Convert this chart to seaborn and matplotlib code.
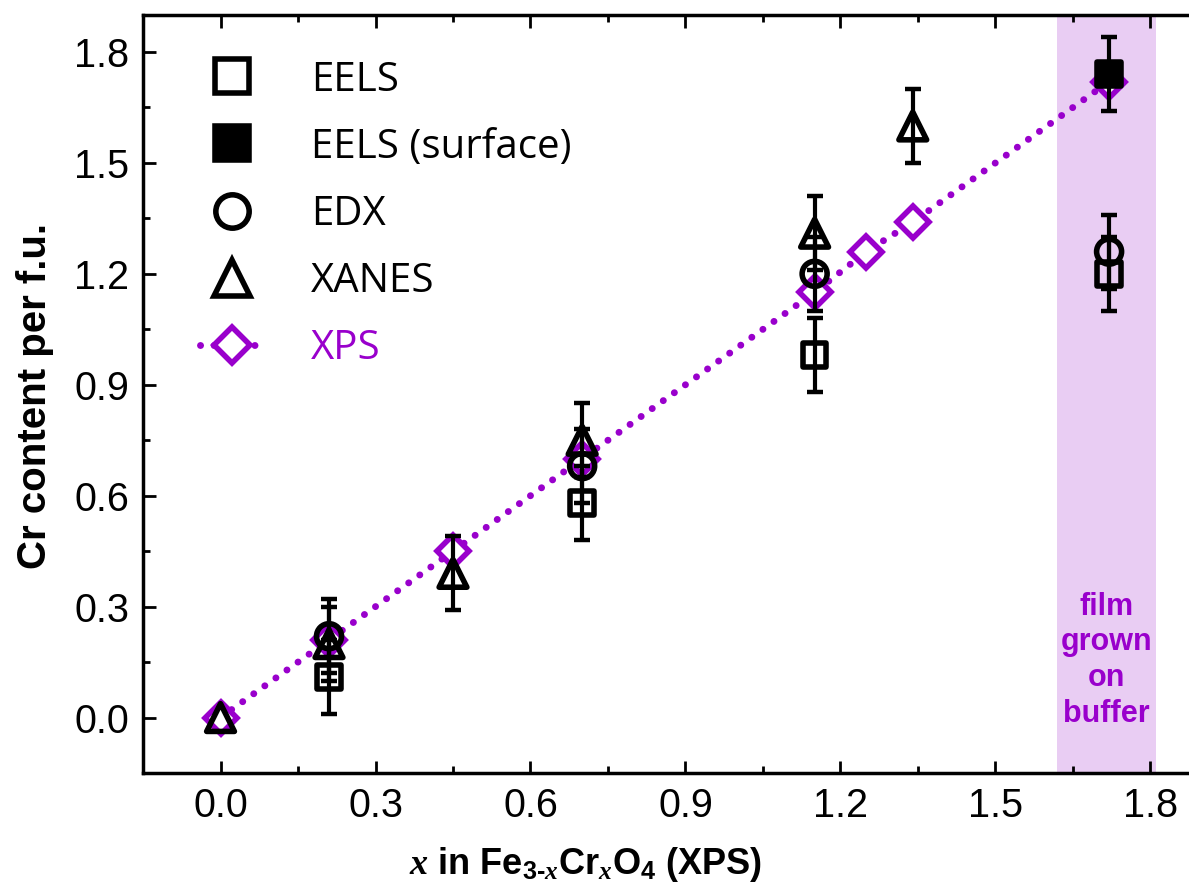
import numpy as np
import pandas as pd
import seaborn as sns
import matplotlib.pyplot as plt
from matplotlib.lines import Line2D

# XPS composition (reference line, y = x)
xps_x = [0.0, 0.21, 0.45, 0.70, 1.15, 1.25, 1.34, 1.72]
xps_y = [0.0, 0.21, 0.45, 0.70, 1.15, 1.26, 1.34, 1.72]

# EELS
eels_x = [0.21, 0.70, 1.15, 1.72]
eels_y = [0.11, 0.58, 0.98, 1.20]
eels_err = [0.1, 0.1, 0.1, 0.1]

# EELS (surface)
surf_x = [1.72]
surf_y = [1.74]
surf_err = [0.1]

# EDX
edx_x = [0.21, 0.70, 1.15, 1.72]
edx_y = [0.22, 0.68, 1.20, 1.26]
edx_err = [0.1, 0.1, 0.1, 0.1]

# XANES
xanes_x = [0.0, 0.21, 0.45, 0.70, 1.15, 1.34]
xanes_y = [0.0, 0.20, 0.39, 0.75, 1.31, 1.60]
xanes_err = [0.0, 0.1, 0.1, 0.1, 0.1, 0.1]

# film grown on buffer
buffer_lo, buffer_hi = 1.62, 1.81
buffer_x, buffer_y = 1.715, 0.155

labels = ['EELS', 'EELS (surface)', 'EDX', 'XANES', 'XPS']

purple = '#9900CC'
shade = '#E9CDF3'
dots = (0, (0.01, 1.95))

sns.set_style('ticks')
plt.rcParams['font.family'] = ['Liberation Sans', 'DejaVu Sans']
plt.rcParams['text.color'] = 'black'
plt.rcParams['axes.labelcolor'] = 'black'
plt.rcParams['mathtext.fontset'] = 'custom'
plt.rcParams['mathtext.rm'] = 'Liberation Sans:weight=bold'
plt.rcParams['mathtext.bf'] = 'Liberation Sans:weight=bold'
plt.rcParams['mathtext.it'] = 'Liberation Serif:style=italic:weight=bold'

fig = plt.figure(figsize=(11.89, 8.88), dpi=100)
ax = fig.add_axes([0.1203, 0.1295, 0.8907, 0.8536])

ax.axvspan(buffer_lo, buffer_hi, color=shade, lw=0, zorder=0)
ax.text(buffer_x, buffer_y, 'film\ngrown\non\nbuffer', ha='center', va='center',
        fontsize=22, fontweight='bold', color=purple, linespacing=1.25, zorder=1)

# XPS line + diamonds
xps = pd.DataFrame({'x': xps_x, 'y': xps_y})
sns.lineplot(data=xps, x='x', y='y', ax=ax, sort=False, color=purple, lw=5,
             linestyle=dots, dash_capstyle='round', marker='D', ms=16,
             mfc='white', mec=purple, mew=4, zorder=2)

# error bars
ebk = dict(fmt='none', ecolor='black', elinewidth=3, capsize=5.8, capthick=3.2, zorder=3)
ax.errorbar(eels_x, eels_y, yerr=eels_err, **ebk)
ax.errorbar(surf_x, surf_y, yerr=surf_err, **ebk)
ax.errorbar(edx_x, edx_y, yerr=edx_err, **ebk)
xe = np.array(xanes_err)
m = xe > 0
ax.errorbar(np.array(xanes_x)[m], np.array(xanes_y)[m], yerr=xe[m], **ebk)

# markers
mk = dict(ax=ax, color='black', edgecolor='black', linewidth=4, zorder=4)
sns.scatterplot(x=eels_x, y=eels_y, marker='s', s=17**2, facecolor='none', **mk)
sns.scatterplot(x=surf_x, y=surf_y, marker='s', s=17**2, facecolor='black', **mk)
sns.scatterplot(x=edx_x, y=edx_y, marker='o', s=18**2, facecolor='none', **mk)
sns.scatterplot(x=xanes_x, y=xanes_y, marker='^', s=20**2, facecolor='none', **mk)

ax.set_xlim(-0.15, 1.9)
ax.set_ylim(-0.15, 1.9)
ax.set_xticks(np.arange(0, 1.81, 0.3))
ax.set_yticks(np.arange(0, 1.81, 0.3))
ax.set_xticks(np.arange(-0.15, 1.9, 0.15), minor=True)
ax.set_yticks(np.arange(-0.15, 1.9, 0.15), minor=True)
ax.xaxis.set_major_formatter(plt.FormatStrFormatter('%.1f'))
ax.yaxis.set_major_formatter(plt.FormatStrFormatter('%.1f'))
ax.tick_params(which='both', direction='in', top=True, right=True, width=2,
               colors='black', labelsize=28.5)
ax.tick_params(which='major', length=9, pad=10)
ax.tick_params(which='minor', length=5)
for sp in ax.spines.values():
    sp.set_linewidth(2.5)
    sp.set_color('black')
    sp.set_visible(True)
ax.grid(False)

ax.set_ylabel('Cr content per f.u.', fontsize=29, fontweight='bold', color='black')
ax.yaxis.set_label_coords(-0.102, 0.497)
ax.yaxis.label.set_va('center')
ax.set_xlabel(r'$\mathit{x}$ in Fe$_{\mathrm{3}\text{-}\mathit{x}}$Cr$_{\mathit{x}}$O$_{\mathrm{4}}$ (XPS)',
              fontsize=26, fontweight='bold', color='black')
ax.xaxis.set_label_coords(0.418, -0.121)
ax.xaxis.label.set_va('center')

handles = [
    Line2D([], [], ls='none', marker='s', ms=24, mfc='none', mec='black', mew=4),
    Line2D([], [], ls='none', marker='s', ms=24, mfc='black', mec='black', mew=4),
    Line2D([], [], ls='none', marker='o', ms=24, mfc='none', mec='black', mew=4),
    Line2D([], [], ls='none', marker='^', ms=26, mfc='none', mec='black', mew=4),
    Line2D([], [], color=purple, lw=5, ls=dots, dash_capstyle='round', marker='D',
           ms=18, mfc='white', mec=purple, mew=4),
]
leg = ax.legend(handles, labels, loc='upper left', bbox_to_anchor=(200 / 1189, 1 - 60 / 888),
                bbox_transform=fig.transFigure, frameon=False, borderpad=0, borderaxespad=0,
                handlelength=1.6, handletextpad=1.15, labelspacing=0.66,
                prop={'family': ['Open Sans', 'DejaVu Sans'], 'size': 29})
for t in leg.get_texts():
    t.set_color('black')
leg.get_texts()[-1].set_color(purple)

fig.savefig('out.png', dpi=100)
